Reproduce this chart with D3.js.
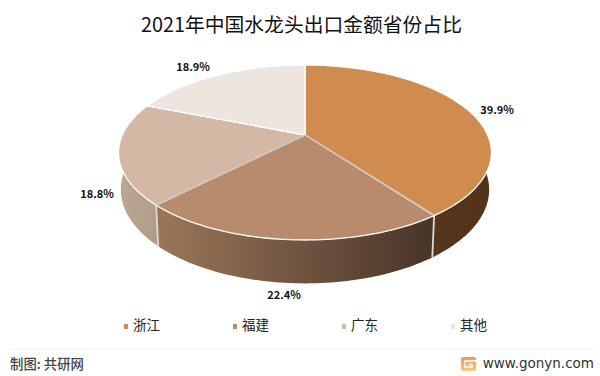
<!DOCTYPE html>
<html>
<head>
<meta charset="utf-8">
<script src="https://cdn.jsdelivr.net/npm/d3@7"></script>
<style>
  html, body { margin: 0; padding: 0; background: #fff; }
  svg { display: block; }
  text { font-family: "Noto Sans CJK SC", "Noto Sans", sans-serif; }
</style>
</head>
<body>
<div id="chart"></div>
<script>
// DATA
const provinces = ["浙江", "福建", "广东", "其他"];
const shares = [39.9, 22.4, 18.8, 18.9];
const shareLabels = ["39.9%", "22.4%", "18.8%", "18.9%"];
const topColors = ["#d08c4e", "#b88b6c", "#d3b8a5", "#ece5e0"];

const w = 600, h = 376;

const svg = d3.select("#chart")
  .append("svg")
  .attr("width", w)
  .attr("height", h)
  .attr("viewBox", `0 0 ${w} ${h}`);

// gradients for the outer wall of the pie
const defs = svg.append("defs");
function wallGradient(id, x1, x2, c1, c2) {
  const g = defs.append("linearGradient")
    .attr("id", id)
    .attr("gradientUnits", "userSpaceOnUse")
    .attr("x1", x1).attr("x2", x2)
    .attr("y1", 0).attr("y2", 0);
  g.append("stop").attr("offset", 0).attr("stop-color", c1);
  g.append("stop").attr("offset", 1).attr("stop-color", c2);
}
wallGradient("wall0", 430, 491, "#55361c", "#52341b");
wallGradient("wall1", 160, 430, "#9a7658", "#493529");
wallGradient("wall2", 118, 162, "#bba792", "#ae9a86");

const logoGrad = defs.append("linearGradient")
  .attr("id", "logoGrad")
  .attr("x1", 0).attr("x2", 0).attr("y1", 0).attr("y2", 1);
logoGrad.append("stop").attr("offset", 0).attr("stop-color", "#f6935a");
logoGrad.append("stop").attr("offset", 1).attr("stop-color", "#fbc67c");

// the tilted pie: d3.pie gives the angles, project() puts them in perspective
const cx = 305, cy = 135, R = 182.7, squash = 84 / 182.7, persp = 0.2, depth = 36.5, shrink = 0.012;

function project(angle, r, z) {
  const X = Math.sin(angle) * r, Y = -Math.cos(angle) * r;
  const s = 1 / (1 - persp * Y + shrink * z);
  return [cx + R * X * s, cy + (R * squash * Y + depth * z) * s];
}

const pie = d3.pie().sort(null);
const slices = pie(shares);
const line = d3.line();

function rimAngles(a0, a1) {
  return d3.range(0, 61).map(i => a0 + (a1 - a0) * i / 60);
}

// walls first, only the part that faces the viewer
const wallFill = ["url(#wall0)", "url(#wall1)", "url(#wall2)", "none"];
slices.forEach((d, i) => {
  const a0 = Math.max(d.startAngle, Math.PI * 0.5 - 0.03);
  const a1 = Math.min(d.endAngle, Math.PI * 1.5 + 0.03);
  if (a1 <= a0) return;
  const angles = rimAngles(a0, a1);
  const pts = angles.map(a => project(a, 1, 0))
    .concat(angles.slice().reverse().map(a => project(a, 1, 1)));
  svg.append("path")
    .attr("d", line(pts) + "Z")
    .attr("fill", wallFill[i]);
});

// white seams down the wall
slices.slice(0, 2).forEach(d => {
  svg.append("path")
    .attr("d", line([project(d.endAngle, 1, 0), project(d.endAngle, 1, 1)]))
    .attr("stroke", "#dedad6")
    .attr("stroke-width", 1.8)
    .attr("fill", "none");
});

// top faces
slices.forEach((d, i) => {
  const pts = [project(0, 0, 0)].concat(rimAngles(d.startAngle, d.endAngle).map(a => project(a, 1, 0)));
  svg.append("path")
    .attr("d", line(pts) + "Z")
    .attr("fill", topColors[i])
    .attr("stroke", "#fff")
    .attr("stroke-width", 1.3)
    .attr("stroke-linejoin", "round");
});

// the dark hairline inside the seams on the front of the top face
slices.slice(0, 2).forEach(d => {
  svg.append("path")
    .attr("d", line([project(0, 0, 0), project(d.endAngle, 1, 0)]))
    .attr("stroke", "#6f6258")
    .attr("stroke-width", 0.5)
    .attr("fill", "none");
});

// percentage labels
const labelPos = [[497, 111], [284, 296], [97, 195], [193, 68]];
slices.forEach((d, i) => {
  svg.append("text")
    .attr("x", labelPos[i][0])
    .attr("y", labelPos[i][1])
    .attr("text-anchor", "middle")
    .attr("dominant-baseline", "middle")
    .attr("font-size", 11)
    .attr("font-weight", 700)
    .attr("fill", "#111")
    .text(shareLabels[i]);
});

// title
svg.append("text")
  .attr("x", 301.5)
  .attr("y", 27)
  .attr("text-anchor", "middle")
  .attr("dominant-baseline", "middle")
  .attr("font-size", 19.8)
  .attr("fill", "#111")
  .text("2021年中国水龙头出口金额省份占比");

// legend
const legendX = d3.scalePoint().domain(provinces).range([124, 451]);
const legend = svg.selectAll("g.legend")
  .data(provinces)
  .enter()
  .append("g")
  .attr("class", "legend")
  .attr("transform", d => `translate(${legendX(d)}, 326)`);
legend.append("rect")
  .attr("x", 0).attr("y", -2)
  .attr("width", 4).attr("height", 5)
  .attr("fill", (d, i) => topColors[i]);
legend.append("text")
  .attr("x", 9)
  .attr("y", 0)
  .attr("dominant-baseline", "middle")
  .attr("font-size", 13.5)
  .attr("fill", "#222")
  .text(d => d);

// footer
svg.append("line")
  .attr("x1", 10).attr("x2", 594)
  .attr("y1", 349).attr("y2", 349)
  .attr("stroke", "#eeeeee")
  .attr("stroke-width", 1);

svg.append("text")
  .attr("x", 10)
  .attr("y", 365)
  .attr("dominant-baseline", "middle")
  .attr("font-size", 13.4)
  .attr("font-weight", 500)
  .attr("fill", "#444")
  .text("制图: 共研网");

// logo: orange square with a white G cut into it
svg.append("rect")
  .attr("x", 461).attr("y", 357)
  .attr("width", 15).attr("height", 14)
  .attr("rx", 2)
  .attr("fill", "url(#logoGrad)");
svg.append("path")
  .attr("d", "M476 361H465V367H472V364.5H468.5")
  .attr("fill", "none")
  .attr("stroke", "#fff")
  .attr("stroke-width", 1.5);

svg.append("text")
  .attr("x", 594)
  .attr("y", 364)
  .attr("text-anchor", "end")
  .attr("dominant-baseline", "middle")
  .attr("font-size", 13.5)
  .attr("fill", "#333")
  .style("font-family", "'DejaVu Sans', sans-serif")
  .text("www.gonyn.com");
</script>
</body>
</html>
